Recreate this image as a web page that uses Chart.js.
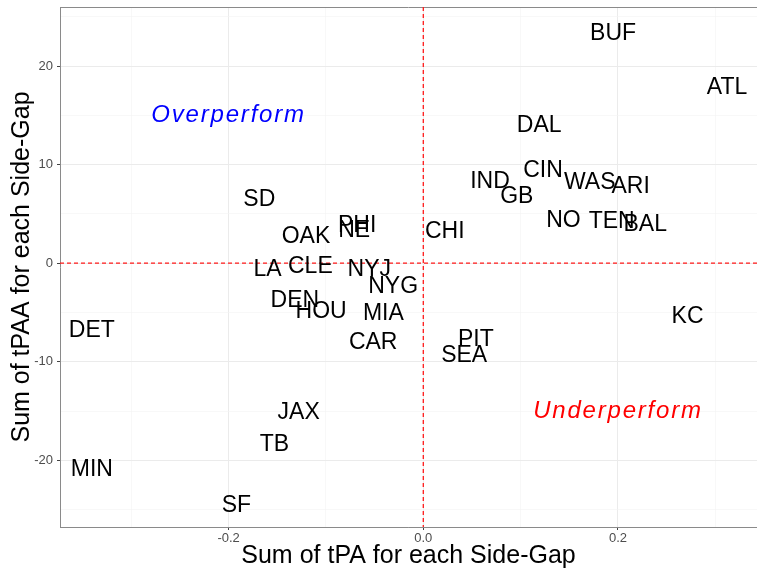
<!DOCTYPE html>
<html>
<head>
<meta charset="utf-8">
<script src="https://cdn.jsdelivr.net/npm/chart.js@4.4.1/dist/chart.umd.min.js"></script>
<style>
  html, body { margin: 0; padding: 0; background: #fff; }
  #wrap { width: 757px; height: 569px; position: relative; }
</style>
</head>
<body>
<div id="wrap"><canvas id="sideGap"></canvas></div>
<script>
const teams = ['BUF', 'ATL', 'DAL', 'CIN', 'IND', 'GB', 'WAS', 'ARI', 'NO', 'TEN', 'BAL', 'CHI',
  'SD', 'OAK', 'PHI', 'NE', 'LA', 'CLE', 'NYJ', 'NYG', 'DEN', 'HOU', 'MIA', 'CAR',
  'PIT', 'SEA', 'KC', 'DET', 'JAX', 'TB', 'MIN', 'SF'];
const tpa = [0.195, 0.312, 0.119, 0.123, 0.0685, 0.096, 0.171, 0.213, 0.144, 0.1935, 0.228, 0.022,
  -0.1685, -0.1205, -0.068, -0.071, -0.160, -0.116, -0.0555, -0.031, -0.132, -0.105, -0.041, -0.0515,
  0.054, 0.042, 0.2715, -0.3405, -0.128, -0.153, -0.3405, -0.192];
const tpaa = [23.5, 18.0, 14.1, 9.55, 8.45, 6.95, 8.4, 7.95, 4.55, 4.4, 4.1, 3.4,
  6.6, 2.9, 4.05, 3.45, -0.45, -0.2, -0.5, -2.15, -3.6, -4.75, -4.95, -7.85,
  -7.55, -9.2, -5.2, -6.7, -15.0, -18.2, -20.75, -24.45];

const noteText = ['Overperform', 'Underperform'];
const noteX = [-0.2, 0.2];
const noteY = [15, -15];
const noteColor = ['#0000ff', '#ff0000'];

const xRange = [-0.3732, 0.3428];
const yRange = [-26.77, 26.0];

const FONT = "'Liberation Sans', Arial, Helvetica, sans-serif";
const isMajorX = (v) => Math.abs(Math.round(v * 10)) % 2 === 0;
const isMajorY = (v) => Math.round(v) % 10 === 0;

const teamLabels = {
  id: 'teamLabels',
  afterDatasetsDraw(chart) {
    const { ctx, chartArea: a, scales: { x, y } } = chart;
    ctx.save();
    // top edge of the panel border
    ctx.strokeStyle = '#8a8a8a';
    ctx.lineWidth = 1;
    ctx.beginPath();
    ctx.moveTo(a.left, a.top + 0.5);
    ctx.lineTo(a.right, a.top + 0.5);
    ctx.stroke();
    // zero reference lines
    ctx.strokeStyle = '#ff1a1a';
    ctx.lineWidth = 1.3;
    ctx.setLineDash([4, 3]);
    const x0 = x.getPixelForValue(0);
    const y0 = y.getPixelForValue(0);
    ctx.beginPath();
    ctx.moveTo(x0, a.top);
    ctx.lineTo(x0, a.bottom);
    ctx.stroke();
    ctx.beginPath();
    ctx.moveTo(a.left, y0);
    ctx.lineTo(a.right, y0);
    ctx.stroke();
    ctx.setLineDash([]);

    // team names, caps centred on the point
    const pts = chart.getDatasetMeta(0).data;
    const size = 23;
    ctx.textAlign = 'center';
    ctx.textBaseline = 'alphabetic';
    ctx.fillStyle = '#000';
    ctx.font = size + 'px ' + FONT;
    pts.forEach((p, i) => ctx.fillText(teams[i], p.x, p.y + size * 0.358));

    ctx.textBaseline = 'middle';
    ctx.font = 'italic 24px ' + FONT;
    ctx.letterSpacing = '1.8px';
    noteText.forEach((t, i) => {
      ctx.fillStyle = noteColor[i];
      ctx.fillText(t, x.getPixelForValue(noteX[i]), y.getPixelForValue(noteY[i]));
    });
    ctx.restore();
  }
};

new Chart(document.getElementById('sideGap'), {
  type: 'scatter',
  data: {
    datasets: [{
      data: tpa.map((v, i) => ({ x: v, y: tpaa[i] })),
      pointRadius: 0,
      pointHoverRadius: 0
    }]
  },
  options: {
    responsive: true,
    maintainAspectRatio: false,
    animation: false,
    events: [],
    layout: { padding: { top: 7, left: 0, right: 0, bottom: 0 } },
    plugins: { legend: { display: false }, tooltip: { enabled: false } },
    scales: {
      x: {
        type: 'linear',
        min: xRange[0],
        max: xRange[1],
        afterFit: (s) => { s.height = 42; s.paddingLeft = 0; s.paddingRight = 0; },
        border: { display: true, color: '#8a8a8a', width: 1 },
        grid: {
          color: (c) => isMajorX(c.tick.value) ? '#ebebeb' : '#f4f4f4',
          lineWidth: (c) => isMajorX(c.tick.value) ? 1 : 0.6,
          tickColor: (c) => isMajorX(c.tick.value) ? '#444' : 'rgba(0,0,0,0)',
          tickLength: 3
        },
        ticks: {
          stepSize: 0.1,
          includeBounds: false,
          maxRotation: 0,
          autoSkip: false,
          padding: 1,
          color: '#4d4d4d',
          font: { family: FONT, size: 13 },
          callback: (v) => isMajorX(v) ? Number(v).toFixed(1) : ''
        },
        title: {
          display: true,
          text: 'Sum of tPA for each Side-Gap',
          color: '#000',
          font: { family: FONT, size: 25, lineHeight: 1 },
          padding: { top: 0, bottom: 0 }
        }
      },
      y: {
        type: 'linear',
        min: yRange[0],
        max: yRange[1],
        afterFit: (s) => { s.width = 60; s.paddingTop = 0; s.paddingBottom = 0; },
        border: { display: true, color: '#8a8a8a', width: 1 },
        grid: {
          color: (c) => isMajorY(c.tick.value) ? '#ebebeb' : '#f4f4f4',
          lineWidth: (c) => isMajorY(c.tick.value) ? 1 : 0.6,
          tickColor: (c) => isMajorY(c.tick.value) ? '#444' : 'rgba(0,0,0,0)',
          tickLength: 3
        },
        ticks: {
          stepSize: 5,
          includeBounds: false,
          autoSkip: false,
          padding: 4,
          color: '#4d4d4d',
          font: { family: FONT, size: 13 },
          callback: (v) => isMajorY(v) ? String(v) : ''
        },
        title: {
          display: true,
          text: 'Sum of tPAA for each Side-Gap',
          color: '#000',
          font: { family: FONT, size: 25, lineHeight: 1 },
          padding: { top: 10, bottom: 0 }
        }
      }
    }
  },
  plugins: [teamLabels]
});
</script>
</body>
</html>
